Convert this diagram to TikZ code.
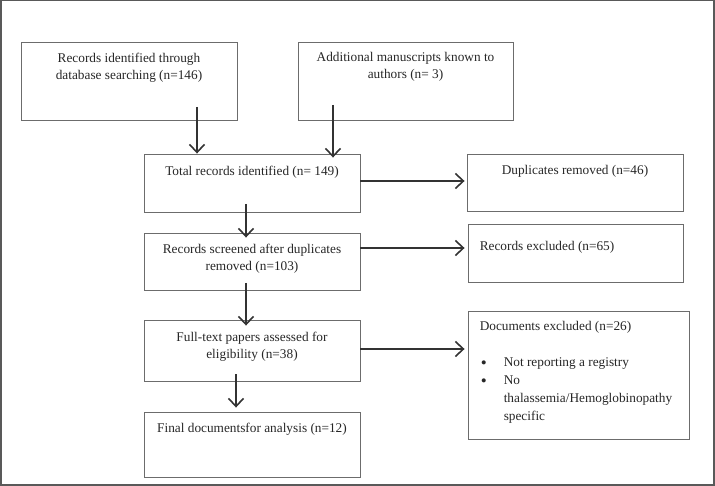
\documentclass[tikz,border=0pt]{standalone}
\usepackage{fontspec}
\setmainfont{Liberation Serif}
\usetikzlibrary{arrows.meta}
\begin{document}
\begin{tikzpicture}[x=1pt, y=-1pt,
    box/.style={draw=gray!85!black, line width=0.9pt, inner sep=0pt},
    txt/.style={font=\fontsize{13.3}{17}\selectfont, text=black!85, inner sep=2pt, anchor=north},
    arr/.style={draw=black!80, line width=1.9pt, -{Straight Barb[length=8pt,width=15pt,line width=1.6pt]}}]
    \useasboundingbox (0,0) rectangle (715,486);

    % Frame
    \draw[gray!70!black, line width=1.5pt] (0.75,0.75) rectangle (714,485);

    % Identification
    \node[box, minimum width=216, minimum height=78] (db) at (129,81) {};
    \node[txt, align=center] (db-t) at ([yshift=-9]db.north) {Records identified through\\database searching (n=146)};
    \node[box, minimum width=215, minimum height=78] (man) at (405.5,81) {};
    \node[txt, align=center] (man-t) at ([yshift=-9]man.north) {Additional manuscripts known to\\authors (n= 3)};

    % Main column
    \node[box, minimum width=216, minimum height=58] (tot) at (252,183) {};
    \node[txt] (tot-t) at ([yshift=-10]tot.north) {Total records identified (n= 149)};
    \node[box, minimum width=216, minimum height=57] (scr) at (252,261.5) {};
    \node[txt, align=center] (scr-t) at ([yshift=-9]scr.north) {Records screened after duplicates\\removed (n=103)};
    \node[box, minimum width=216, minimum height=61] (full) at (252,350.5) {};
    \node[txt, align=center] (full-t) at ([yshift=-10]full.north) {Full-text papers assessed for\\eligibility (n=38)};
    \node[box, minimum width=216, minimum height=65] (fin) at (252,444.5) {};
    \node[txt] (fin-t) at ([yshift=-9]fin.north) {Final documentsfor analysis (n=12)};

    % Exclusions
    \node[box, minimum width=216, minimum height=57] (dup) at (575,182.5) {};
    \node[txt] (dup-t) at ([yshift=-10]dup.north) {Duplicates removed (n=46)};
    \node[box, minimum width=215, minimum height=58] (exc) at (575.5,253) {};
    \node[txt, anchor=north west] (exc-t) at ([xshift=10,yshift=-16]exc.north west) {Records excluded (n=65)};
    \node[box, minimum width=221, minimum height=128] (docs) at (578.5,375) {};
    \node[txt, anchor=north west, align=left] (docs-t) at ([xshift=10,yshift=-9]docs.north west) {Documents excluded (n=26)\\[19pt]
        \renewcommand\arraystretch{1.04}%
        \begin{tabular}[t]{@{}l@{}l@{}}
        \makebox[24pt][l]{\hspace{1pt}\raisebox{-1.5pt}{\fontsize{17}{17}\selectfont\textbullet}} & Not reporting a registry\\
        \makebox[24pt][l]{\hspace{1pt}\raisebox{-1.5pt}{\fontsize{17}{17}\selectfont\textbullet}} & No\\
        & thalassemia/Hemoglobinopathy\\
        & specific
        \end{tabular}};

    % Arrows down
    \coordinate (a1) at (197,107);
    \coordinate (a2) at (333,105);
    \coordinate (a3) at (246,204);
    \coordinate (a4) at (246,283);
    \coordinate (a5) at (236,374);
    \draw[arr] (a1) -- (a1 |- tot.north);
    \draw[arr] (a2) -- ([yshift=-4]a2 |- tot.north);
    \draw[arr] (a3) -- ([yshift=-5]a3 |- scr.north);
    \draw[arr] (a4) -- ([yshift=-6]a4 |- full.north);
    \draw[arr] (a5) -- ([yshift=4]a5 |- fin.north);

    % Arrows right
    \coordinate (h1) at (0,181);
    \coordinate (h2) at (0,248);
    \coordinate (h3) at (0,349);
    \draw[arr] (tot.east |- h1) -- ([xshift=-2]dup.west |- h1);
    \draw[arr] (scr.east |- h2) -- ([xshift=-3]exc.west |- h2);
    \draw[arr] (full.east |- h3) -- ([xshift=-3]docs.west |- h3);
\end{tikzpicture}
\end{document}
